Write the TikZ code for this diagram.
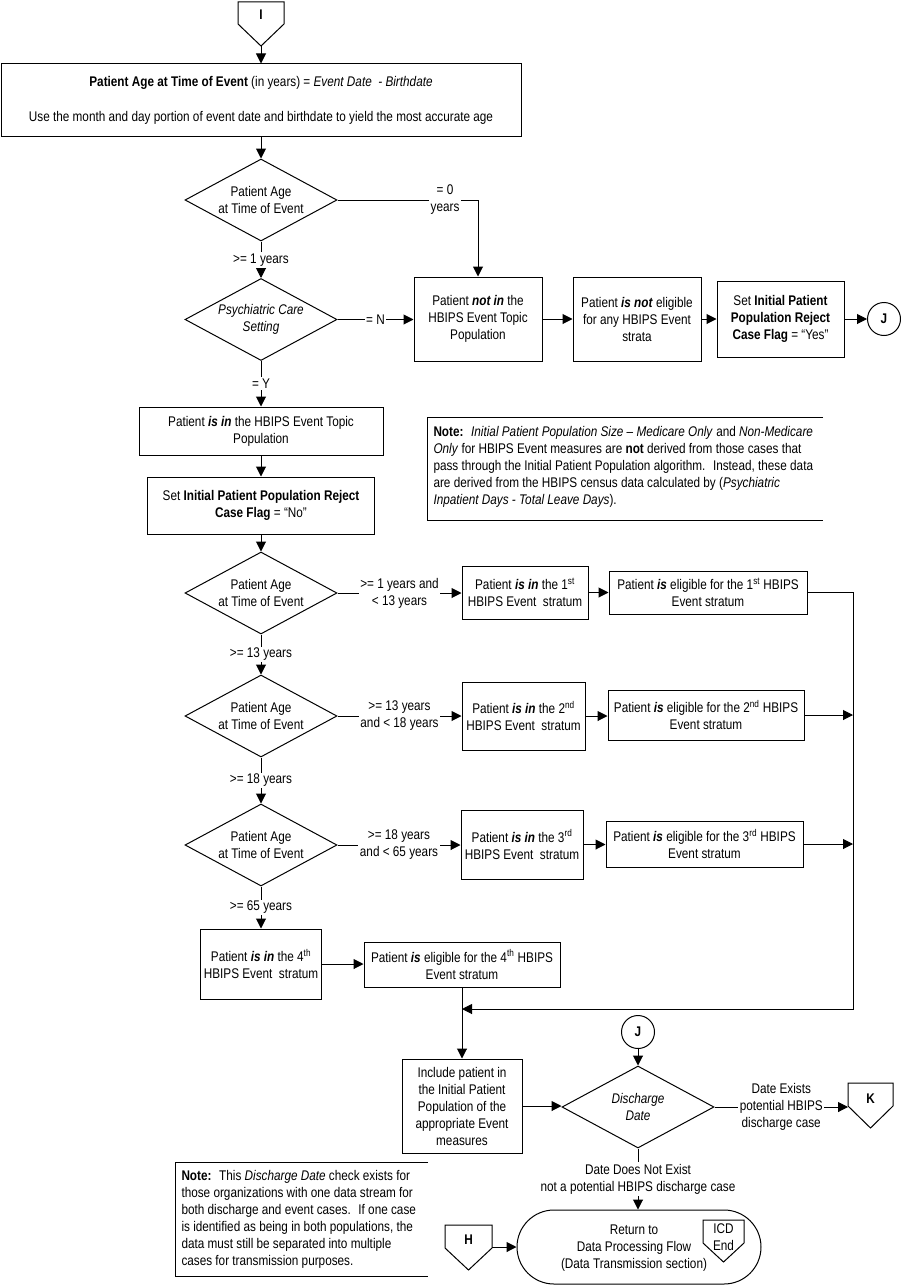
\documentclass[tikz,border=0pt]{standalone}
\usepackage{fontspec}
\setmainfont{Liberation Sans}[FakeStretch=0.84]
\usetikzlibrary{arrows.meta,shapes.geometric,shapes.misc}
\newcommand\offpage[5]{\draw[fill=white] (#1,#2) -- (#3,#2) -- (#3,#4) -- ({(#1+#3)/2},#5) -- (#1,#4) -- cycle;}
\begin{document}
\begin{tikzpicture}[x=1pt,y=-1pt,line width=1pt,
  font=\fontsize{14}{17}\selectfont,
  every node/.style={align=center,inner sep=0pt},
  bx/.style 2 args={draw,rectangle,minimum width=#1pt,minimum height=#2pt},
  dia/.style={draw,diamond,minimum width=152pt,minimum height=82pt,shape aspect=1.85},
  conn/.style={draw,circle,minimum size=33pt},
  lbl/.style={fill=white,inner sep=1.5pt},
  arr/.style={-{Triangle[length=10pt,width=10pt]}}]
\fill[white] (0,0) rectangle (901,1287);
\useasboundingbox (0,0) rectangle (901,1287);

% ---- top
\offpage{238}{2}{284}{24}{46}
\node (I) at (261,15) {\textbf{I}};
\coordinate (Itip) at (261,46);
\node[bx={520}{73}] (A) at (261,100.5) {\textbf{Patient Age at Time of Event} (in years) = \textit{Event Date~ - Birthdate}\\[18pt]Use the month and day portion of event date and birthdate to yield the most accurate age};
\node[dia] (D1) at (261,200) {Patient Age\\at Time of Event};
\node[dia] (D2) at (261,319.5) {\textit{Psychiatric Care}\\\textit{Setting}};
\node[bx={128}{84}] (B1) at (478,319) {Patient \textbf{\textit{not in}} the\\HBIPS Event Topic\\Population};
\node[bx={128}{84}] (B2) at (637,319) {Patient \textbf{\textit{is not}} eligible\\for any HBIPS Event\\strata};
\node[bx={127}{76}] (B3) at (780.5,319) {Set \textbf{Initial Patient}\\\textbf{Population Reject}\\\textbf{Case Flag} = “Yes”};
\node[conn] (J1) at (884,319) {\textbf{J}};
\node[bx={244}{48}] (C1) at (261,431) {Patient \textbf{\textit{is in}} the HBIPS Event Topic\\Population};
\node[bx={227}{57}] (C2) at (261,505.5) {Set \textbf{Initial Patient Population Reject}\\\textbf{Case Flag} = “No”};
\draw (823,417) -- (427,417) -- (427,520) -- (823,520);
\node[anchor=west,align=left] (N1) at (433,467) {\textbf{Note:}~ \textit{Initial Patient Population Size – Medicare Only} and \textit{Non-Medicare}\\\textit{Only} for HBIPS Event measures are \textbf{not} derived from those cases that\\pass through the Initial Patient Population algorithm.~ Instead, these data\\are derived from the HBIPS census data calculated by (\textit{Psychiatric}\\\textit{Inpatient Days - Total Leave Days}).};

% ---- strata
\node[dia] (D3) at (261,593) {Patient Age\\at Time of Event};
\node[bx={126}{53}] (E1) at (525,592.5) {Patient \textbf{\textit{is in}} the 1\textsuperscript{st}\\HBIPS Event~ stratum};
\node[bx={198}{43}] (E2) at (708,592.5) {Patient \textbf{\textit{is}} eligible for the 1\textsuperscript{st} HBIPS\\Event stratum};
\node[dia] (D4) at (261,716) {Patient Age\\at Time of Event};
\node[bx={123}{68}] (E3) at (523.5,716) {Patient \textbf{\textit{is in}} the 2\textsuperscript{nd}\\HBIPS Event~ stratum};
\node[bx={196}{50}] (E4) at (706,715) {Patient \textbf{\textit{is}} eligible for the 2\textsuperscript{nd} HBIPS\\Event stratum};
\node[dia] (D5) at (261,845) {Patient Age\\at Time of Event};
\node[bx={122}{69}] (E5) at (522,844.5) {Patient \textbf{\textit{is in}} the 3\textsuperscript{rd}\\HBIPS Event~ stratum};
\node[bx={197}{46}] (E6) at (704.5,844) {Patient \textbf{\textit{is}} eligible for the 3\textsuperscript{rd} HBIPS\\Event stratum};
\node[bx={121}{70}] (F1) at (261,964) {Patient \textbf{\textit{is in}} the 4\textsuperscript{th}\\HBIPS Event~ stratum};
\node[bx={196}{45}] (F2) at (462,964.5) {Patient \textbf{\textit{is}} eligible for the 4\textsuperscript{th} HBIPS\\Event stratum};
\coordinate (R1) at (853,592.5);
\coordinate (R2) at (853,1009);

% ---- bottom
\node[bx={120}{94}] (G) at (462,1106) {Include patient in\\the Initial Patient\\Population of the\\appropriate Event\\measures};
\node[conn] (J2) at (638,1032) {\textbf{J}};
\node[dia] (DD) at (638,1107) {\textit{Discharge}\\\textit{Date}};
\offpage{848}{1083}{893}{1106}{1128}
\node (K) at (870.5,1099) {\textbf{K}};
\coordinate (Kin) at (848,1107);
\node[draw,rounded rectangle,minimum width=244pt,minimum height=74pt] (Ret) at (639,1247) {};
\node (RetT) at (634,1248) {Return to\\Data Processing Flow\\(Data Transmission section)};
\offpage{703}{1220}{744}{1243}{1262}
\node (ICD) at (723.5,1237) {ICD\\End};
\offpage{445}{1225}{492}{1248}{1270}
\node (H) at (468.5,1240) {\textbf{H}};
\coordinate (Hout) at (492,1247);
\draw (428,1162) -- (175,1162) -- (175,1276) -- (428,1276);
\node[anchor=west,align=left] (N2) at (181,1219) {\textbf{Note:}~ This \textit{Discharge Date} check exists for\\those organizations with one data stream for\\both discharge and event cases.~ If one case\\is identified as being in both populations, the\\data must still be separated into multiple\\cases for transmission purposes.};

% ---- connectors
\draw[arr] (Itip) -- (A.north);
\draw[arr] (A.south) -- (D1.north);
\draw[arr] (D1.east) -| (B1.north);
\node[lbl] (L0) at (445,200) {= 0\\years};
\draw[arr] (D1.south) -- node[lbl] (L1) {>= 1 years} (D2.north);
\draw[arr] (D2.east) -- node[lbl] (LN) {= N} (D2.east -| B1.west);
\draw[arr] (B1.east) -- (B1.east -| B2.west);
\draw[arr] (B2.east) -- (B2.east -| B3.west);
\draw[arr] (B3.east) -- (B3.east -| J1.west);
\draw[arr] (D2.south) -- node[lbl] (LY) {= Y} (C1.north);
\draw[arr] (C1.south) -- (C2.north);
\draw[arr] (C2.south) -- (D3.north);
\draw[arr] (D3.east) -- node[lbl] (L2) {>= 1 years and\\< 13 years} (D3.east -| E1.west);
\draw[arr] (E1.east) -- (E1.east -| E2.west);
\draw[arr] (E2.east) -- (E2.east -| R1) -- (R2) -- (R2 -| G.north);
\draw[arr] (D3.south) -- node[lbl] (L3) {>= 13 years} (D4.north);
\draw[arr] (D4.east) -- node[lbl] (L4) {>= 13 years\\and < 18 years} (D4.east -| E3.west);
\draw[arr] (E3.east) -- (E3.east -| E4.west);
\draw[arr] (E4.east) -- (E4.east -| R1);
\draw[arr] (D4.south) -- node[lbl] (L5) {>= 18 years} (D5.north);
\draw[arr] (D5.east) -- node[lbl] (L6) {>= 18 years\\and < 65 years} (D5.east -| E5.west);
\draw[arr] (E5.east) -- (E5.east -| E6.west);
\draw[arr] (E6.east) -- (E6.east -| R1);
\draw[arr] (D5.south) -- node[lbl] (L7) {>= 65 years} (F1.north);
\draw[arr] (F1.east) -- (F1.east -| F2.west);
\draw[arr] (F2.south) -- (G.north);
\draw[arr] (G.east) -- (G.east -| DD.west);
\draw[arr] (J2.south) -- (DD.north);
\draw[arr] (DD.east) -- node[lbl] (L8) {Date Exists\\potential HBIPS\\discharge case} (Kin);
\draw[arr] (DD.south) -- node[lbl] (L9) {Date Does Not Exist\\not a potential HBIPS discharge case} (DD.south |- Ret.north);
\draw[arr] (Hout) -- (Hout -| Ret.west);
\end{tikzpicture}
\end{document}
